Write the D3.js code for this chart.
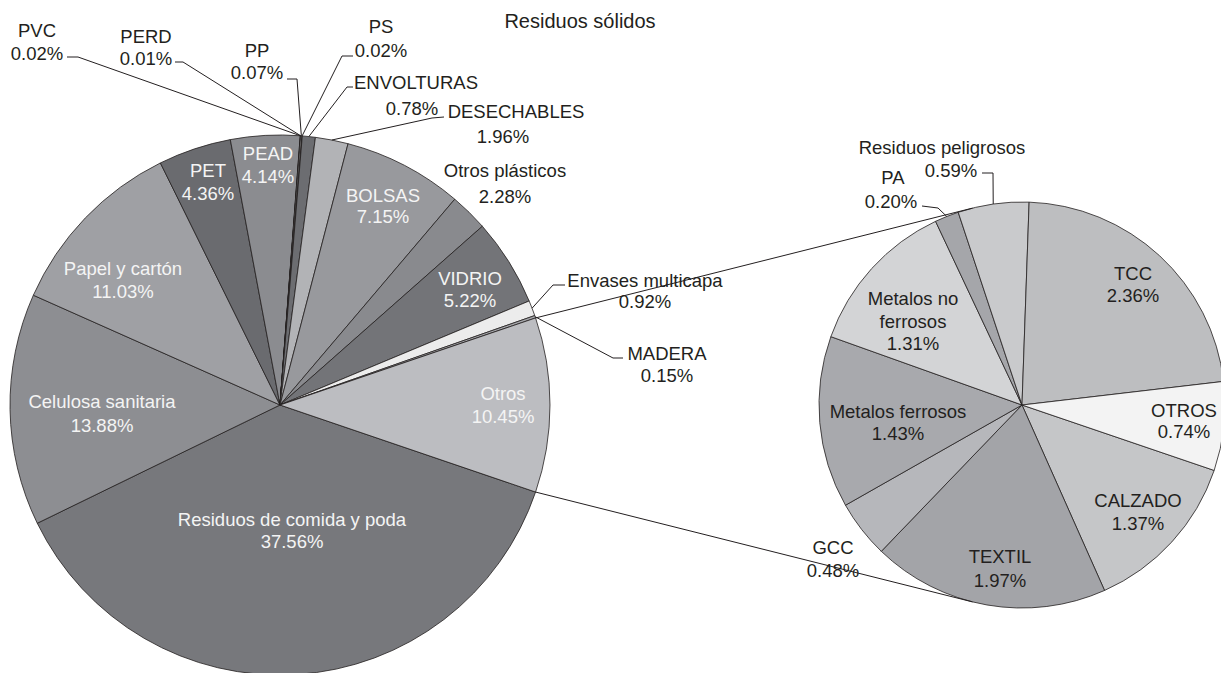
<!DOCTYPE html>
<html>
<head>
<meta charset="utf-8">
<script src="https://cdn.jsdelivr.net/npm/d3@7"></script>
<style>
  body { margin: 0; background: #fff; }
  svg { display: block; font-family: "Liberation Sans", Arial, sans-serif; }
</style>
</head>
<body>
<div id="vis"></div>
<script>
// main pie
var mainCats = ["Residuos de comida y poda", "Celulosa sanitaria", "Papel y cartón", "PET", "PEAD",
    "PVC", "PERD", "PP", "PS", "ENVOLTURAS", "DESECHABLES", "BOLSAS", "Otros plásticos",
    "VIDRIO", "Envases multicapa", "MADERA", "Otros"];
var mainValues = [37.56, 13.88, 11.03, 4.36, 4.14, 0.02, 0.01, 0.07, 0.02, 0.78, 1.96, 7.15, 2.28,
    5.22, 0.92, 0.15, 10.45];
var mainColors = ["#77787c", "#8d8e92", "#9fa0a4", "#6a6b6f", "#8b8c90", "#c8c9cb", "#a0a1a5", "#dcdcdc",
    "#bcbdc0", "#6c6d71", "#b2b3b6", "#98999d", "#898a8e", "#737478", "#ececec", "#a6a7ab", "#bcbdc1"];

// second pie (break-down of "Otros")
var subCats = ["CALZADO", "TEXTIL", "GCC", "Metalos ferrosos", "Metalos no ferrosos", "PA",
    "Residuos peligrosos", "TCC", "OTROS"];
var subValues = [1.37, 1.97, 0.48, 1.43, 1.31, 0.20, 0.59, 2.36, 0.74];
var subColors = ["#c5c6c8", "#a3a4a8", "#b6b7bb", "#a8a9ad", "#d3d4d6", "#a5a6aa", "#c9cacc", "#bdbec0", "#f3f3f3"];

var width = 1221, height = 673;
var main = { cx: 280, cy: 405, r: 270 };
var sub = { cx: 1022, cy: 405, r: 203 };

var ink = "#231f20";

// label layout: x, y per line, optional line text, optional leader (label side points)
var mainLabels = {
    "Residuos de comida y poda": { x: [292, 292], y: [521, 543], fill: "#f4f4f4" },
    "Celulosa sanitaria": { x: [102, 102], y: [403, 427], fill: "#f4f4f4" },
    "Papel y cartón": { x: [123, 123], y: [270, 293], fill: "#f4f4f4" },
    "PET": { x: [208, 208], y: [172, 195], fill: "#f4f4f4" },
    "PEAD": { x: [268, 268], y: [155, 178], fill: "#f4f4f4" },
    "PVC": { x: [37, 37], y: [32, 55], leader: [[67, 57], [78, 57]] },
    "PERD": { x: [146, 146], y: [38, 60], leader: [[175, 62], [183, 62]] },
    "PP": { x: [257, 257], y: [52, 74], leader: [[287, 79], [297, 79]] },
    "PS": { x: [381, 381], y: [28, 52], leader: [[353, 56], [342, 56]] },
    "ENVOLTURAS": { x: [416, 412], y: [84, 110], leader: [[353, 87], [347, 87]] },
    "DESECHABLES": { x: [516, 503], y: [113, 138], leader: [[444, 117], [432, 118]] },
    "BOLSAS": { x: [383, 383], y: [197, 218], fill: "#f4f4f4" },
    "Otros plásticos": { x: [505, 505], y: [172, 198] },
    "VIDRIO": { x: [470, 470], y: [280, 302], fill: "#f4f4f4" },
    "Envases multicapa": { x: [645, 645], y: [282, 303], leader: [[565, 285], [553, 285]] },
    "MADERA": { x: [667, 667], y: [355, 377], leader: [[623, 358], [613, 358]] },
    "Otros": { x: [503, 503], y: [395, 418], fill: "#f4f4f4" }
};

var subLabels = {
    "CALZADO": { x: [1138, 1138], y: [502, 525] },
    "TEXTIL": { x: [1000, 1000], y: [558, 582] },
    "GCC": { x: [833, 833], y: [549, 572] },
    "Metalos ferrosos": { x: [898, 898], y: [413, 435] },
    "Metalos no ferrosos": { lines: ["Metalos no", "ferrosos"], x: [913, 913, 913], y: [300, 323, 345] },
    "PA": { x: [893, 891], y: [179, 203], leader: [[922, 206], [938, 208]] },
    "Residuos peligrosos": { x: [942, 951], y: [149, 172], leader: [[982, 173], [993, 173]] },
    "TCC": { x: [1133, 1133], y: [275, 297] },
    "OTROS": { x: [1184, 1184], y: [412, 433] }
};

var svg = d3.select("#vis")
    .append("svg")
    .attr("width", width)
    .attr("height", height);

svg.append("text")
    .attr("x", 580)
    .attr("y", 23)
    .attr("text-anchor", "middle")
    .attr("dominant-baseline", "middle")
    .style("font-size", "20px")
    .attr("fill", ink)
    .text("Residuos sólidos");

// excel-style pie of pie: the split slice is centred on 3 o'clock
var total = d3.sum(mainValues);
var start = Math.PI / 2 + (mainValues[mainValues.length - 1] / total) * Math.PI;

function makePie(cats, values) {
    var rows = cats.map(function (c, i) { return { name: c, value: values[i], i: i }; });
    return d3.pie()
        .sort(null)
        .value(function (d) { return d.value; })
        .startAngle(start)
        .endAngle(start + 2 * Math.PI)(rows);
}

var mainArcs = makePie(mainCats, mainValues);
var subArcs = makePie(subCats, subValues);

function polar(p, a, r) {
    return [p.cx + r * Math.sin(a), p.cy - r * Math.cos(a)];
}

function drawPie(p, arcs, colors) {
    var arc = d3.arc().innerRadius(0).outerRadius(p.r);
    var g = svg.append("g")
        .attr("transform", "translate(" + p.cx + "," + p.cy + ")");
    g.selectAll("path")
        .data(arcs)
        .enter()
        .append("path")
        .attr("d", arc)
        .attr("fill", function (d) { return colors[d.data.i]; })
        .attr("stroke", ink)
        .attr("stroke-width", 0.8)
        .attr("stroke-linejoin", "round");
}

drawPie(main, mainArcs, mainColors);
drawPie(sub, subArcs, subColors);

// connector lines: tangents from the edges of "Otros" to the second pie
var otros = mainArcs[mainArcs.length - 1];
[[otros.startAngle, -1], [otros.endAngle, 1]].forEach(function (e) {
    var P = polar(main, e[0], main.r);
    var dx = sub.cx - P[0], dy = sub.cy - P[1];
    var d = Math.sqrt(dx * dx + dy * dy);
    var dir = Math.atan2(dy, dx) + e[1] * Math.asin(sub.r / d);
    var L = Math.sqrt(d * d - sub.r * sub.r);
    svg.append("line")
        .attr("x1", P[0]).attr("y1", P[1])
        .attr("x2", P[0] + L * Math.cos(dir))
        .attr("y2", P[1] + L * Math.sin(dir))
        .attr("stroke", ink)
        .attr("stroke-width", 1);
});

function drawLabels(p, arcs, layout) {
    arcs.forEach(function (d) {
        var lab = layout[d.data.name];
        if (!lab) return;
        var lines = (lab.lines || [d.data.name]).concat([d.data.value.toFixed(2) + "%"]);
        if (lab.leader) {
            var mid = (d.startAngle + d.endAngle) / 2;
            var pts = lab.leader.concat([polar(p, mid, p.r)]);
            svg.append("path")
                .attr("d", d3.line()(pts))
                .attr("fill", "none")
                .attr("stroke", ink)
                .attr("stroke-width", 1);
        }
        lines.forEach(function (t, k) {
            svg.append("text")
                .attr("x", lab.x[k])
                .attr("y", lab.y[k])
                .attr("text-anchor", "middle")
                .attr("dominant-baseline", "middle")
                .style("font-size", "18.5px")
                .attr("fill", lab.fill || ink)
                .text(t);
        });
    });
}

drawLabels(main, mainArcs, mainLabels);
drawLabels(sub, subArcs, subLabels);
</script>
</body>
</html>
